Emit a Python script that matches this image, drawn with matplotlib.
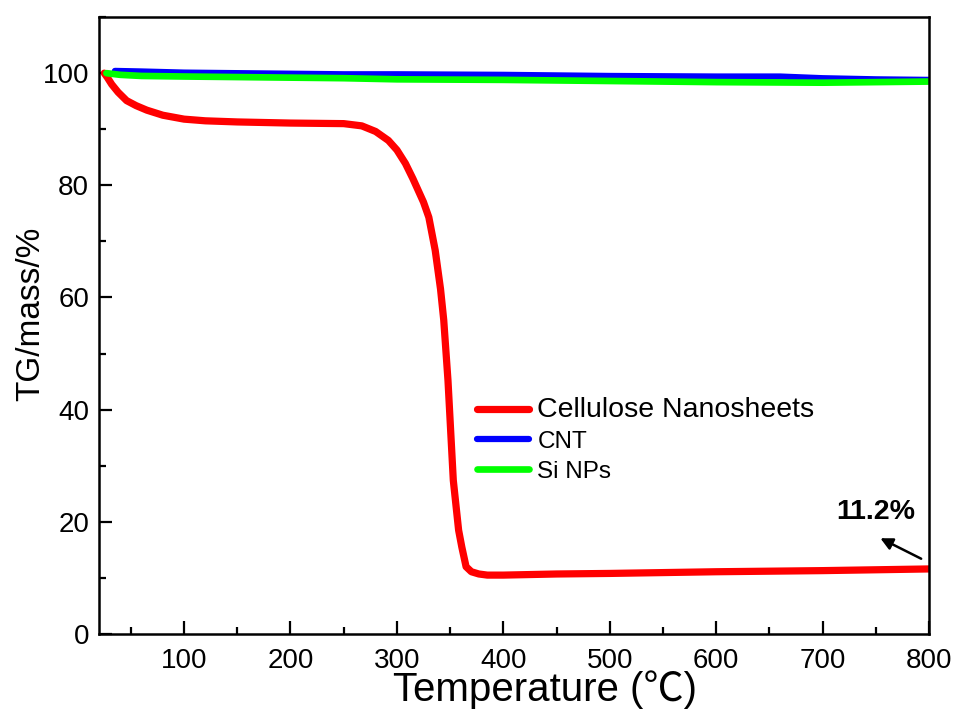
import matplotlib.pyplot as plt
from matplotlib.ticker import MultipleLocator

plt.rcParams['font.family'] = ['Liberation Sans', 'Noto Sans CJK SC', 'DejaVu Sans']

# Cellulose Nanosheets
t_cns = [25, 28, 32, 38, 46, 55, 65, 80, 100, 120, 150, 200, 250, 267, 280, 292, 300, 308,
         315, 320, 325, 330, 336, 341, 344, 348, 353, 358, 361, 365, 370, 377, 385, 400,
         450, 500, 600, 700, 800]
w_cns = [100, 99.2, 98.0, 96.6, 95.1, 94.2, 93.4, 92.5, 91.8, 91.5, 91.3, 91.1, 91.0, 90.6,
         89.6, 88.0, 86.3, 83.9, 81.2, 79.1, 77.0, 74.3, 68.4, 61.5, 56.0, 45.2, 27.4, 18.5,
         15.5, 12.0, 11.1, 10.7, 10.5, 10.5, 10.7, 10.8, 11.1, 11.3, 11.6]

# CNT
t_cnt = [35, 60, 100, 150, 200, 250, 300, 400, 500, 600, 660, 700, 750, 800]
w_cnt = [100.4, 100.3, 100.1, 100.0, 99.9, 99.8, 99.8, 99.7, 99.5, 99.4, 99.4, 99.1, 98.9, 98.8]

# Si NPs
t_si = [27, 40, 60, 100, 150, 200, 250, 300, 400, 500, 600, 700, 800]
w_si = [100.0, 99.7, 99.5, 99.4, 99.3, 99.2, 99.1, 98.9, 98.8, 98.6, 98.4, 98.3, 98.5]

fig = plt.figure(figsize=(9.57, 7.11), dpi=100)
ax = fig.add_axes([0.1034, 0.1083, 0.8673, 0.8677])

ax.plot(t_cns, w_cns, color='#ff0000', lw=5.2, solid_capstyle='round', label='Cellulose Nanosheets')
ax.plot(t_cnt, w_cnt, color='#0000ff', lw=4.5, solid_capstyle='round', label='CNT')
ax.plot(t_si, w_si, color='#00ff00', lw=4.8, solid_capstyle='round', label='Si NPs')

ax.set_xlim(20, 800)
ax.set_ylim(0, 110)
ax.xaxis.set_major_locator(MultipleLocator(100))
ax.xaxis.set_minor_locator(MultipleLocator(50))
ax.yaxis.set_major_locator(MultipleLocator(20))
ax.yaxis.set_minor_locator(MultipleLocator(10))
ax.set_xticks([100, 200, 300, 400, 500, 600, 700, 800])

ax.tick_params(which='both', direction='in', width=1.6)
ax.tick_params(which='major', length=9.5)
ax.tick_params(which='minor', length=5)
ax.tick_params(axis='x', pad=10, labelsize=20)
ax.tick_params(axis='y', pad=7, labelsize=20)
for s in ax.spines.values():
    s.set_linewidth(1.8)

ax.set_xlabel('Temperature (℃)', fontsize=29)
ax.xaxis.set_label_coords(0.538, -0.059)
ax.set_ylabel('TG/mass/%', fontsize=24)
ax.yaxis.set_label_coords(-0.063, 0.519)

leg = ax.legend(loc='upper left', bbox_to_anchor=(0.455, 0.384), frameon=False, fontsize=17.5,
                handlelength=2.15, handletextpad=0.35, labelspacing=0.32, borderpad=0,
                borderaxespad=0)
leg.get_texts()[0].set_fontsize(20.5)

ax.annotate('', xy=(752, 17.3), xytext=(795, 13.2),
            arrowprops=dict(arrowstyle='-|>', color='black', lw=1.8, mutation_scale=18))
ax.text(750, 21.8, '11.2%', fontsize=20.5, fontweight='bold', ha='center', va='center')

fig.savefig('out.png', dpi=100)
